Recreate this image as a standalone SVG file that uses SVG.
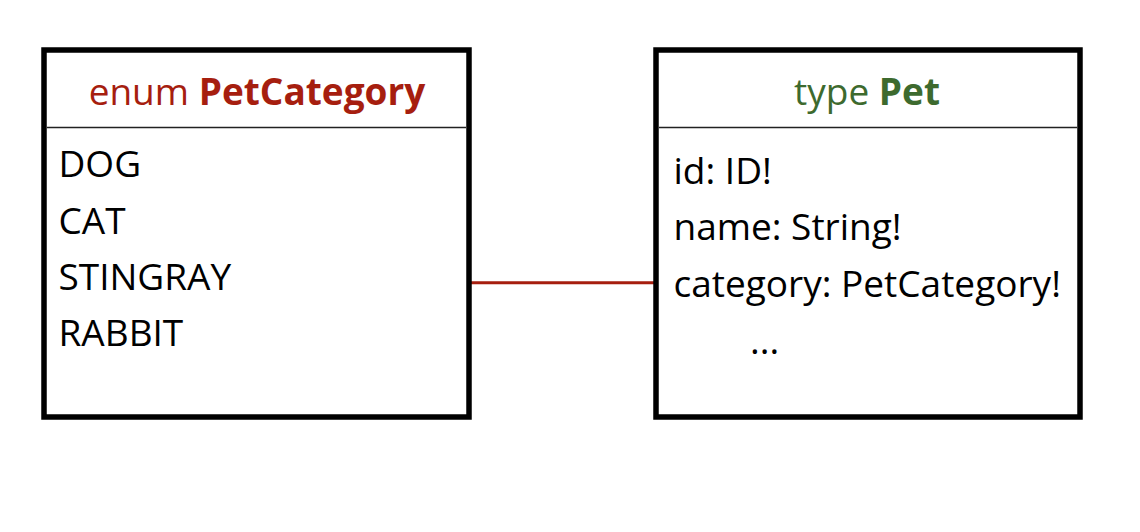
<svg xmlns="http://www.w3.org/2000/svg" width="1140" height="532" viewBox="0 0 1140 532">
<style>
.box{fill:#fff;stroke:#000;stroke-width:5.5}
.div{stroke:#222;stroke-width:1.5}
.t{font-family:"Open Sans",sans-serif;font-size:37px}
.b{font-family:"Open Sans",sans-serif;font-size:37px;fill:#000}
.red{fill:#a61e0f}
.green{fill:#3d6a2e}
.bold{font-weight:bold}
</style>
<rect width="1140" height="532" fill="#fff"/>
<g id="connectors">
<line x1="470" y1="282.7" x2="654" y2="282.7" stroke="#a61e0f" stroke-width="3"/>
</g>
<g id="PetCategory">
<rect class="box" x="44" y="50" width="425" height="367"/>
<line class="div" x1="47" y1="127.5" x2="466" y2="127.5"/>
<text class="t red" x="257" y="105" text-anchor="middle">enum <tspan class="bold">PetCategory</tspan></text>
<text class="b" x="58.5" y="177">DOG</text>
<text class="b" x="58.5" y="233.5">CAT</text>
<text class="b" x="58.5" y="290">STINGRAY</text>
<text class="b" x="58.5" y="346">RABBIT</text>
</g>
<g id="Pet">
<rect class="box" x="656" y="50" width="424" height="367"/>
<line class="div" x1="659" y1="127.5" x2="1077" y2="127.5"/>
<text class="t green" x="867" y="105" text-anchor="middle">type <tspan class="bold">Pet</tspan></text>
<text class="b" x="673.5" y="183.5">id: ID!</text>
<text class="b" x="673.5" y="240">name: String!</text>
<text class="b" x="673.5" y="296.5">category: PetCategory!</text>
<text class="b" x="750" y="354">...</text>
</g>
</svg>
